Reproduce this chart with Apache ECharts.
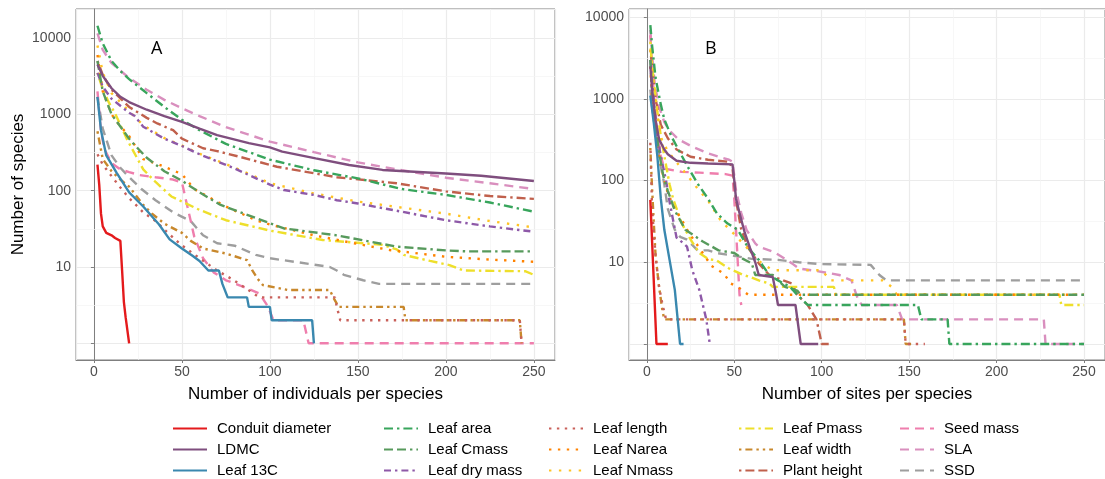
<!DOCTYPE html>
<html>
<head>
<meta charset="utf-8">
<script src="https://cdn.jsdelivr.net/npm/echarts@6/dist/echarts.min.js"></script>
<style>
  html, body { margin: 0; padding: 0; background: #fff; }
  #chart { width: 1105px; height: 479px; }
</style>
</head>
<body>
<div id="chart"></div>
<script>
// trait names (legend order)
const traits = ['Conduit diameter', 'LDMC', 'Leaf 13C', 'Leaf area', 'Leaf Cmass', 'Leaf dry mass',
  'Leaf length', 'Leaf Narea', 'Leaf Nmass', 'Leaf Pmass', 'Leaf width', 'Plant height',
  'Seed mass', 'SLA', 'SSD'];

const xTicks = [0, 50, 100, 150, 200, 250];
const yTicks = [10, 100, 1000, 10000];
const yMinor = [3.1623, 31.623, 316.23, 3162.3];

// panel A: number of species vs number of individuals per species
const indConduit = [[2, 220], [3, 120], [4, 50], [5, 34], [7, 28], [10, 26], [12, 24], [15, 22], [16, 9], [17, 3.5], [18, 2.2], [20, 1]];
const indLDMC = [[2, 4500], [5, 3200], [10, 2200], [15, 1700], [20, 1450], [30, 1150], [40, 950], [50, 800], [60, 650], [70, 535], [88, 420], [100, 370], [107, 325], [126, 265], [145, 217], [164, 187], [200, 168], [220, 157], [250, 134]];
const ind13C = [[2, 1700], [4, 620], [7, 290], [13, 170], [20, 95], [28, 62], [37, 36], [43, 23], [50, 17.5], [56, 14], [60, 12], [65, 9], [71, 9], [73, 6], [76, 4], [87, 4], [88, 3], [100, 3], [101, 2], [124, 2], [125, 1]];
const indArea = [[2, 14500], [5, 8500], [10, 5000], [15, 3700], [20, 2900], [30, 1900], [40, 1250], [50, 850], [60, 620], [75, 410], [100, 255], [125, 185], [150, 145], [175, 105], [200, 88], [225, 70], [250, 53]];
const indCmass = [[2, 5000], [5, 2000], [10, 1000], [20, 480], [23, 400], [30, 270], [40, 180], [50, 135], [60, 95], [72, 65], [98, 39], [108, 32], [138, 26], [172, 18.5], [200, 16.5], [212, 16], [250, 16]];
const indDry = [[2, 3500], [5, 2300], [10, 1600], [20, 1050], [23, 960], [28, 690], [40, 480], [50, 385], [60, 300], [79, 200], [100, 120], [108, 102], [125, 88], [138, 75], [150, 68], [175, 53], [200, 41], [225, 34], [250, 29]];
const indLength = [[2, 300], [5, 220], [10, 155], [15, 110], [20, 80], [28, 52], [35, 40], [42, 28], [49, 20], [60, 13], [70, 9], [79, 6.8], [85, 5.5], [94, 4], [137, 4], [138, 3], [140, 2], [242, 2], [243, 1]];
const indNarea = [[2, 6000], [5, 2000], [10, 1000], [15, 700], [20, 520], [28, 260], [38, 215], [50, 165], [57, 105], [75, 62], [92, 41], [100, 36], [125, 26], [150, 20], [168, 16.7], [200, 13.6], [225, 12.5], [250, 11.7]];
const indNmass = [[2, 8000], [5, 3500], [10, 1900], [20, 1100], [28, 720], [40, 490], [50, 390], [60, 305], [79, 205], [100, 125], [125, 92], [150, 72], [175, 60], [200, 50], [225, 40], [250, 33]];
const indPmass = [[2, 3500], [4, 2500], [8, 1500], [12, 1030], [19, 460], [28, 190], [35, 130], [44, 84], [50, 72], [60, 56], [75, 41], [100, 30], [130, 22.6], [164, 19.5], [172, 17], [176, 14.4], [191, 12], [202, 10.6], [210, 9], [245, 8.8], [250, 7.9]];
const indWidth = [[2, 600], [5, 260], [10, 180], [15, 140], [20, 113], [28, 65], [33, 50], [40, 37], [50, 28], [55, 22], [62, 17.5], [75, 15], [87, 12.3], [90, 9], [93, 7], [96, 5.8], [110, 5], [134, 5], [136, 4], [139, 3], [176, 3], [177, 2], [242, 2], [243, 1]];
const indPlant = [[2, 5000], [5, 3300], [10, 2100], [20, 1250], [30, 900], [36, 760], [45, 620], [50, 480], [62, 360], [70, 330], [81, 285], [104, 206], [138, 150], [172, 125], [200, 98], [225, 85], [250, 78]];
const indSeed = [[2, 2000], [4, 600], [6, 350], [10, 230], [15, 190], [20, 175], [26, 160], [35, 150], [45, 140], [50, 128], [52, 80], [55, 40], [57, 25], [62, 13], [68, 8.5], [75, 6.7], [85, 5.5], [94, 4.5], [99, 3], [102, 2], [119, 2], [122, 1], [250, 1]];
const indSLA = [[2, 11500], [5, 7000], [10, 4700], [20, 3000], [30, 2100], [40, 1550], [50, 1200], [60, 950], [75, 680], [100, 440], [125, 320], [150, 235], [175, 185], [200, 148], [225, 125], [250, 105]];
const indSSD = [[2, 1700], [5, 650], [10, 290], [15, 200], [20, 150], [27, 105], [35, 75], [45, 52], [55, 40], [62, 26], [70, 20.5], [80, 19], [92, 14.4], [100, 13], [122, 11], [134, 10], [138, 9], [142, 7.9], [153, 6.7], [162, 6], [250, 6]];

// panel B: number of species vs number of sites per species
const siteConduit = [[2, 58], [5.5, 1], [12, 1]];
const siteLDMC = [[2, 2500], [3, 1300], [5, 550], [7, 320], [10, 240], [12, 210], [17, 175], [25, 165], [35, 162], [49, 158], [50, 100], [51, 60], [53, 40], [56, 23], [59, 15], [62, 10], [64, 7], [72, 6.6], [74, 4], [75, 3], [85, 3], [88, 1], [98, 1]];
const site13C = [[2, 1100], [4, 500], [6, 200], [8, 60], [10, 25], [13, 10.7], [16, 4.6], [19, 1], [21, 1]];
const siteArea = [[2, 8000], [3, 4500], [5, 1800], [8, 850], [10, 560], [14, 350], [18, 240], [24, 140], [29, 92], [35, 60], [40, 40], [46, 30], [52, 25], [58, 15], [64, 10.7], [70, 7], [75, 6], [82, 5], [86, 4], [92, 3], [155, 3], [157, 2], [172, 2], [173, 1], [250, 1]];
const siteCmass = [[2, 3000], [3, 1200], [5, 450], [7, 220], [9.5, 112], [12, 75], [16, 43], [22, 25], [32, 18], [41, 14], [50, 13], [55, 11], [60, 9.7], [62, 7], [72, 7], [75, 6], [79, 5], [86, 4.5], [88, 4], [250, 4]];
const siteDry = [[2, 3000], [4, 900], [6, 350], [8, 200], [11, 100], [13, 55], [15, 33], [17, 20], [21, 17], [23, 15.5], [26, 8], [30, 4.6], [34, 2], [36, 1], [37, 1]];
const siteLength = [[2, 290], [3, 45], [5, 12], [7, 5], [9, 3], [11, 2], [147, 2], [148, 1], [159, 1]];
const siteNarea = [[2, 2500], [3, 1000], [5, 400], [8, 150], [12, 70], [16, 45], [20, 33], [24, 23], [30, 15], [37, 9], [44, 7.3], [48, 5.5], [52, 5], [58, 4], [250, 4]];
const siteNmass = [[2, 4000], [4, 1500], [6, 600], [8.5, 315], [12, 230], [16, 178], [20, 140], [25.5, 100], [30, 75], [35, 57], [42, 33], [50, 22], [55, 17], [60, 13], [65, 10], [72, 8], [100, 8], [105, 6], [135, 6], [140, 5], [143, 4], [250, 4]];
const sitePmass = [[2, 5000], [3, 2500], [4, 1600], [6, 700], [8, 350], [10, 200], [13, 90], [15, 60], [20, 30], [25, 19], [30, 13], [35, 11], [40, 10.5], [47, 8.4], [55, 7], [60, 6.5], [64, 6], [70, 5.5], [72, 5], [107, 5], [108, 4], [236, 4], [237, 3], [250, 3]];
const siteWidth = [[2, 250], [3, 80], [4, 30], [5, 12], [7, 5], [9, 2.5], [10, 2], [147, 2], [148, 1], [152, 1]];
const sitePlant = [[2, 4000], [3, 2500], [5, 1000], [8, 480], [12, 330], [17, 240], [25, 196], [35, 180], [47, 170], [49, 140], [51, 58], [54, 25], [58, 15], [64, 9.7], [70, 7], [78, 6], [83, 5.5], [86, 4], [92, 3], [97, 2], [100, 1], [104, 1]];
const siteSeed = [[2, 6000], [3, 2500], [4, 1100], [6, 400], [8, 200], [10, 140], [20, 128], [30, 125], [45, 120], [49, 115], [50, 60], [51, 25], [52, 10], [53, 4], [54, 3]];
const siteSLA = [[2, 7000], [3, 3500], [4.5, 1540], [7, 800], [10, 520], [13, 410], [18, 320], [26, 260], [35, 215], [47, 180], [49, 170], [51, 76], [54, 40], [57, 25], [62, 17], [64, 15.5], [70, 14], [74, 12.9], [83, 9.7], [87, 8.4], [94, 8], [102, 7.5], [110, 7], [117, 6], [121, 3.4], [123, 3], [143, 3], [146, 2], [227, 2], [228, 1], [250, 1]];
const siteSSD = [[2, 1300], [3, 800], [5, 380], [8, 150], [10, 90], [12, 45], [16, 25], [19, 20.5], [23, 19], [29, 14], [35, 14], [40, 13], [50, 12], [60, 11], [75, 10.7], [87, 10], [100, 9.5], [128, 9.3], [133, 7], [137, 6], [250, 6]];

const individualsData = [indConduit, indLDMC, ind13C, indArea, indCmass, indDry, indLength, indNarea, indNmass, indPmass, indWidth, indPlant, indSeed, indSLA, indSSD];
const sitesData = [siteConduit, siteLDMC, site13C, siteArea, siteCmass, siteDry, siteLength, siteNarea, siteNmass, sitePmass, siteWidth, sitePlant, siteSeed, siteSLA, siteSSD];

// styling
const colors = ['#E41A1C', '#7F4E7E', '#3A88AF', '#38A55C', '#579A5C', '#8E59A8', '#C9605A', '#FF8200',
  '#FFC324', '#EEDF2B', '#C8882C', '#C0604C', '#EF7EAD', '#D98FBE', '#9E9E9E'];
const dashes = ['solid', 'solid', 'solid', [9, 4, 2.4, 4], [9, 4, 9, 4, 2.4, 4], [7, 4, 2.4, 4],
  [2.4, 5.5], [2.4, 6.5], [2.4, 7.5], [2.4, 4, 9, 4], [2.4, 4, 7, 4, 2.4, 4], [2.4, 4, 9, 4, 9, 4],
  [9, 6], [9, 6], [9, 6]];

const FONT = 'Liberation Sans';
const GRID_MAJOR = '#EBEBEB';
const GRID_MINOR = '#F4F4F4';
const BORDER = '#7F7F7F';

function xAxisOf(gridIndex, title) {
  return {
    type: 'value', gridIndex: gridIndex, min: -10.2, max: 262,
    minInterval: 50, maxInterval: 50,
    name: title, nameLocation: 'middle', nameGap: 26,
    nameTextStyle: { fontFamily: FONT, fontSize: 17, color: '#000' },
    axisLine: { show: true, onZero: false, lineStyle: { color: BORDER, width: 1 } },
    axisTick: { show: true, length: 3, lineStyle: { color: BORDER } },
    axisLabel: {
      fontFamily: FONT, fontSize: 14, color: '#4D4D4D', margin: 5,
      showMinLabel: false, showMaxLabel: false,
      formatter: v => xTicks.includes(v) ? String(v) : ''
    },
    splitLine: { show: true, lineStyle: { color: GRID_MAJOR, width: 1.2 } },
    minorTick: { show: false, splitNumber: 2 },
    minorSplitLine: { show: true, lineStyle: { color: GRID_MINOR, width: 0.7 } }
  };
}

function yAxisOf(gridIndex, min, max, title) {
  return {
    type: 'log', logBase: 10, gridIndex: gridIndex, min: min, max: max,
    name: title, nameLocation: 'middle', nameGap: 49,
    nameTextStyle: { fontFamily: FONT, fontSize: 17, color: '#000' },
    axisLine: { show: true, lineStyle: { color: BORDER, width: 1 } },
    axisTick: { show: true, length: 3, lineStyle: { color: BORDER } },
    axisLabel: {
      fontFamily: FONT, fontSize: 14, color: '#4D4D4D', margin: 5,
      showMinLabel: false, showMaxLabel: false,
      formatter: v => {
        const r = Math.round(v);
        return yTicks.includes(r) && Math.abs(v - r) < 1e-6 * r ? String(r) : '';
      }
    },
    splitLine: { show: true, lineStyle: { color: GRID_MAJOR, width: 1.2 } }
  };
}

const series = [];
[individualsData, sitesData].forEach((panel, p) => {
  panel.forEach((data, i) => {
    const s = {
      name: traits[i], type: 'line', xAxisIndex: p, yAxisIndex: p,
      data: data, symbol: 'none', showSymbol: false, smooth: false,
      clip: true, animation: false,
      color: colors[i],
      lineStyle: { color: colors[i], width: 2.4, type: dashes[i], cap: 'butt' },
      z: 2 + (15 - i) * 0.01
    };
    if (i === 0) {
      s.markLine = {
        silent: true, symbol: 'none', z: 1, animation: false,
        label: { show: false },
        lineStyle: { color: GRID_MINOR, width: 0.7, type: 'solid' },
        emphasis: { disabled: true },
        data: yMinor.map(v => ({ yAxis: v }))
      };
    }
    series.push(s);
  });
});

const legendCols = [172, 383, 548, 738, 899];
const legends = legendCols.map((left, c) => ({
  orient: 'vertical', left: left, top: 421, height: 70, padding: 0,
  itemWidth: 34, itemHeight: 14, itemGap: 6,
  selectedMode: false,
  itemStyle: { opacity: 0 },
  textStyle: { fontFamily: FONT, fontSize: 15, color: '#000', padding: [0, 0, 0, 5] },
  data: traits.slice(c * 3, c * 3 + 3)
}));

const chart = echarts.init(document.getElementById('chart'), null, { renderer: 'canvas' });
chart.setOption({
  animation: false,
  backgroundColor: '#fff',
  grid: [
    { left: 76, top: 9, right: 550, bottom: 119, show: true, borderColor: BORDER, borderWidth: 1, containLabel: false },
    { left: 629, top: 9, right: -4, bottom: 119, show: true, borderColor: BORDER, borderWidth: 1, containLabel: false }
  ],
  xAxis: [xAxisOf(0, 'Number of individuals per species'), xAxisOf(1, 'Number of sites per species')],
  yAxis: [yAxisOf(0, 0.604, 24040, 'Number of species'), yAxisOf(1, 0.637, 12590, '')],
  legend: legends,
  graphic: [
    { type: 'text', left: 151, top: 40, style: { text: 'A', fontFamily: 'Open Sans', fontSize: 18, fill: '#000' } },
    { type: 'text', left: 705, top: 40, style: { text: 'B', fontFamily: 'Open Sans', fontSize: 18, fill: '#000' } }
  ],
  series: series
});
</script>
</body>
</html>
